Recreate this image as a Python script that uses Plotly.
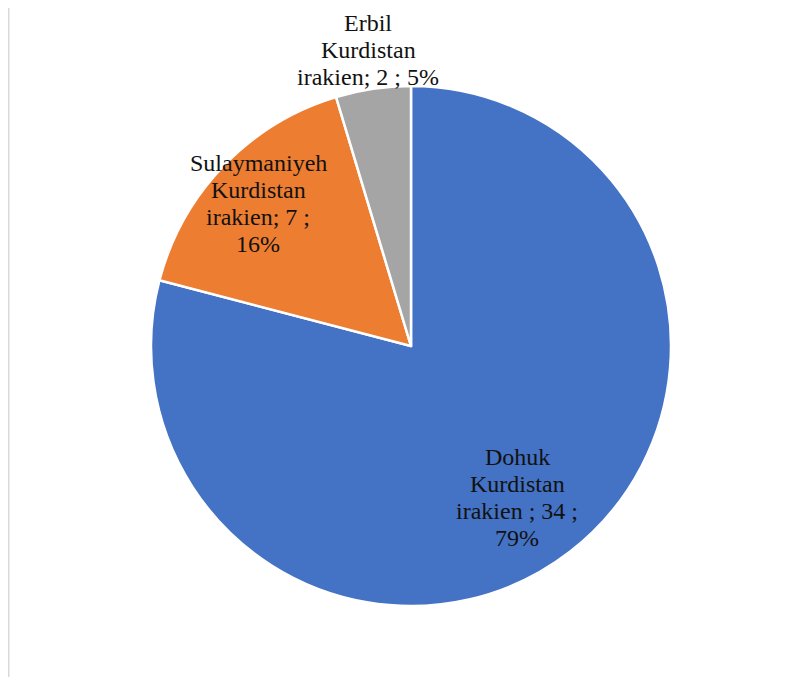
import plotly.graph_objects as go

# data
regions = ["Dohuk Kurdistan irakien", "Sulaymaniyeh Kurdistan irakien", "Erbil Kurdistan irakien"]
counts = [34, 7, 2]
colors = ["#4472C4", "#ED7D31", "#A5A5A5"]

# label text as shown in the chart (line breaks as in the original)
label_lines = [
    ["Dohuk", "Kurdistan", "irakien ; {v} ;", "{p}%"],
    ["Sulaymaniyeh", "Kurdistan", "irakien; {v} ;", "{p}%"],
    ["Erbil", "Kurdistan", "irakien; {v} ; {p}%"],
]
# label x centre and first-line baseline in pixels; page has an 8px body offset
OFF = 8
label_pos = [(517, 466), (258, 172), (368, 32)]
LINE_H = 27.2
FS = 24

W, H = 799, 677
total = sum(counts)

fig = go.Figure(go.Pie(
    labels=regions,
    values=counts,
    sort=False,
    direction="clockwise",
    rotation=0,
    marker=dict(colors=colors, line=dict(color="white", width=2.5)),
    textinfo="none",
    hoverinfo="label+value+percent",
    showlegend=False,
    domain=dict(x=[(151 - OFF) / W, (671 - OFF) / W],
                y=[(H - 606 + OFF) / H, (H - 86 + OFF) / H]),
))

serif = "'Liberation Serif', 'Times New Roman', Times, serif"
for lines, v, (px_, base) in zip(label_lines, counts, label_pos):
    p = round(100 * v / total)
    for i, l in enumerate(lines):
        cy = base + i * LINE_H - 0.38 * FS
        fig.add_annotation(
            x=(px_ - OFF) / W, y=1 - (cy - OFF) / H, xref="paper", yref="paper",
            text=l.format(v=v, p=p), showarrow=False,
            xanchor="center", yanchor="middle",
            font=dict(family=serif, size=FS, color="#111111"),
        )

# thin grey border line at the left
fig.add_shape(type="line", xref="paper", yref="paper",
              x0=0.5 / W, x1=0.5 / W, y0=0, y1=1,
              line=dict(color="#D9D9D9", width=2))

fig.update_layout(
    width=W, height=H,
    margin=dict(l=0, r=0, t=0, b=0),
    paper_bgcolor="white",
    plot_bgcolor="white",
    font=dict(family=serif),
)

fig.write_html("out.html")
